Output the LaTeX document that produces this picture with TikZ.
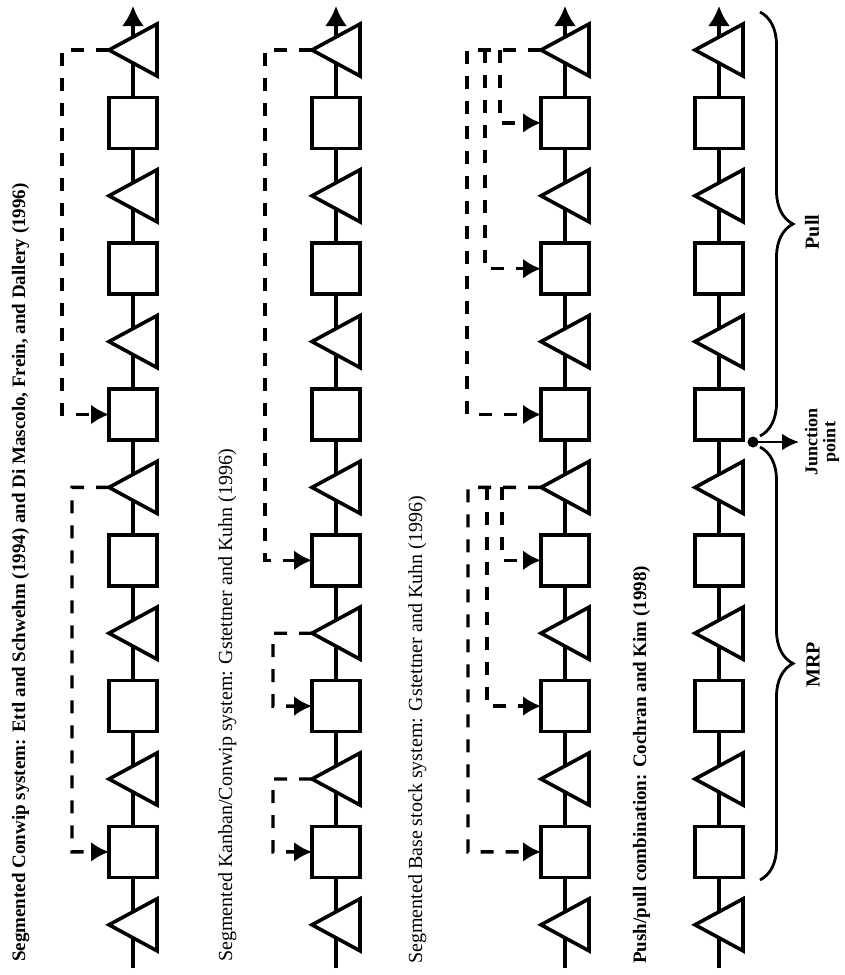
\documentclass[tikz,border=0pt]{standalone}
\usepackage{fontspec}
\setmainfont{Liberation Serif}
\usetikzlibrary{arrows.meta,decorations.pathreplacing,backgrounds}
\begin{document}
\begin{tikzpicture}[x=1pt,y=-1pt,
  sq/.style={draw, fill=white, line width=3.6pt, minimum width=48pt, minimum height=51pt, inner sep=0pt, outer sep=0pt},
  tribox/.style={minimum width=48pt, minimum height=52pt, inner sep=0pt, outer sep=0pt},
  tri/.style={draw, fill=white, line width=3.6pt, line join=miter},
  flow/.style={line width=3.4pt},
  fbn/.style={line width=3.4pt, dash pattern=on 13pt off 12pt},
  fb/.style={fbn, -{Latex[length=18pt,width=20pt]}},
  lab/.style={rotate=90, anchor=base west, inner sep=0pt, font=\fontsize{20}{24}\selectfont},
  side/.style={rotate=90, inner sep=0pt, font=\bfseries\fontsize{20}{22}\selectfont, align=center},
  brc/.style={line width=2.8pt, decorate, decoration={brace, amplitude=33pt}},
]
\useasboundingbox (0,0) rectangle (844,975);

% production lines
\foreach \cx/\li in {133/1,336/2,565/3,719/4}{
  \coordinate (top\li) at (\cx,6);
  \coordinate (bot\li) at (\cx,968);
  \foreach \i in {0,...,12}{
    \pgfmathsetmacro\yy{50+72.9*\i}
    \ifodd\i
      \node[sq] (p\li e\i) at (\cx,\yy) {};
    \else
      \node[tribox] (p\li e\i) at (\cx,\yy) {};
      \draw[tri] (p\li e\i.north east) -- (p\li e\i.south east) -- (p\li e\i.west) -- cycle;
    \fi
  }
}
\begin{pgfonlayer}{background}
\foreach \li in {1,...,4}{
  \draw[flow] (bot\li) -- (p\li e0.center);
  \draw[flow,-{Latex[length=20pt,width=22pt]}] (p\li e0.center) -- (top\li);
}
\end{pgfonlayer}

% line 1: segmented Conwip
\draw[fb] (p1e0.west) -- (62,50) |- (p1e5.west);
\draw[fb] (p1e6.west) -- (72,487.4) |- (p1e11.west);

% line 2: segmented Kanban/Conwip
\draw[fb] (p2e0.west) -- (265,50) |- (p2e7.west);
\draw[fb] (p2e8.west) -- (273,633.2) |- (p2e9.west);
\draw[fb] (p2e10.west) -- (273,779) |- (p2e11.west);

% line 3: segmented base stock
\draw[fb] (p3e0.west) -- (467,50) |- (p3e5.west);
\draw[fb] (485,50) |- (p3e3.west);
\draw[fb] (500,50) |- (p3e1.west);
\draw[fb] (p3e6.west) -- (468,487.4) |- (p3e11.west);
\draw[fb] (487,487.4) |- (p3e9.west);
\draw[fb] (502,487.4) |- (p3e7.west);

% line 4: push/pull
\coordinate (pullTop) at (760,12);
\coordinate (pullBot) at (760,436);
\coordinate (mrpTop) at (760,447);
\coordinate (mrpBot) at (760,880);
\draw[brc] (pullTop) -- (pullBot);
\draw[brc] (mrpTop) -- (mrpBot);
\node[circle, fill=black, minimum size=11pt, inner sep=0pt] (jdot) at (753,442) {};
\coordinate (jend) at (799,442);
\draw[line width=2.8pt, -{Latex[length=17pt,width=17pt]}] (jdot.center) -- (jend);

% labels
\node[lab, font=\bfseries\fontsize{19}{24}\selectfont] (lab1) at (25,962) {Segmented Conwip system: Ettl and Schwehm (1994) and Di Mascolo, Frein, and Dallery (1996)};
\node[lab] (lab2) at (232,962) {Segmented Kanban/Conwip system: Gstettner and Kuhn (1996)};
\node[lab] (lab3) at (422,964) {Segmented Base stock system: Gstettner and Kuhn (1996)};
\node[lab, font=\bfseries\fontsize{19}{24}\selectfont] (lab4) at (646,964) {Push/pull combination: Cochran and Kim (1998)};
\node[side] (pull) at (812,232) {Pull};
\node[side, font=\bfseries\fontsize{18}{18}\selectfont] (junc) at (822,442) {Junction\\point};
\node[side] (mrp) at (813,665) {MRP};
\end{tikzpicture}
\end{document}
